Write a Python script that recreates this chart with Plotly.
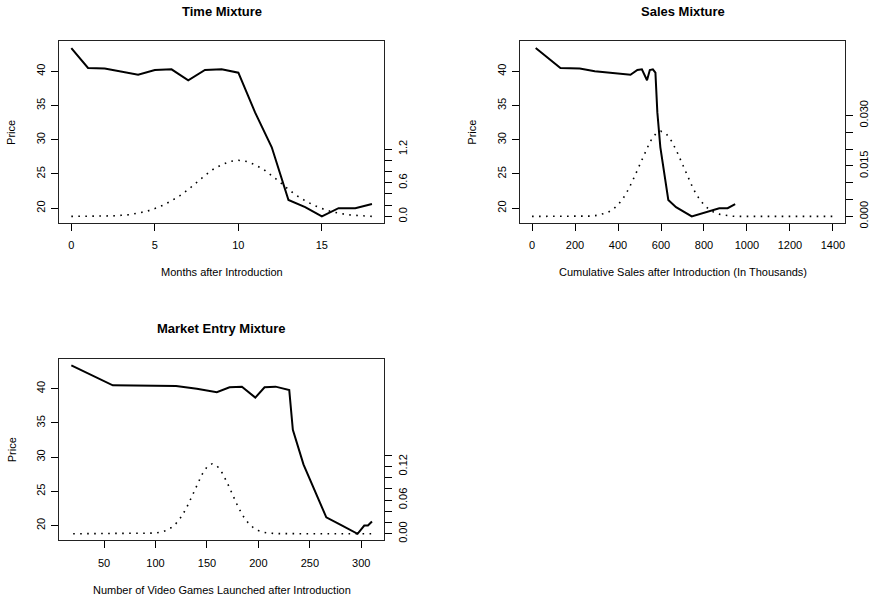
import plotly.graph_objects as go

# ---------------- data ----------------
months = list(range(19))
price = [43.4, 40.5, 40.4, 40.0, 39.5, 40.2, 40.3, 38.7, 40.2, 40.3,
         39.8, 34.0, 28.9, 21.2, 20.15, 18.8, 20.0, 20.0, 20.6]

# Time mixture weights (dotted)
time_grid = [0, 0.5, 1, 1.5, 2, 2.5, 3, 3.5, 4, 4.5, 5, 5.5, 6, 6.5, 7, 7.5, 8, 8.5, 9,
             9.5, 10, 10.5, 11, 11.5, 12, 12.5, 13, 13.5, 14, 14.5, 15, 15.5, 16, 16.5,
             17, 17.5, 18]
time_weight = [0.00, 0.00, 0.00, 0.00, 0.00, 0.01, 0.02, 0.03, 0.06, 0.09, 0.14, 0.20,
               0.28, 0.37, 0.48, 0.61, 0.73, 0.84, 0.92, 0.98, 1.00, 0.98, 0.92, 0.84,
               0.73, 0.61, 0.48, 0.37, 0.28, 0.20, 0.14, 0.09, 0.06, 0.03, 0.02, 0.01, 0.00]

# Sales mixture
cum_sales = [17, 132, 222, 292, 458, 490, 511, 535, 548, 562, 574, 583, 597,
             634, 670, 743, 871, 910, 945]
sales_grid = [0, 25, 50, 75, 100, 125, 150, 175, 200, 225, 250, 275, 300, 325, 350,
              375, 400, 425, 450, 475, 500, 525, 550, 575, 600, 625, 650, 675, 700,
              725, 750, 775, 800, 825, 850, 875, 900, 925, 950, 975, 1000, 1025, 1050,
              1075, 1100, 1125, 1150, 1175, 1200, 1225, 1250, 1275, 1300, 1325, 1350,
              1375, 1400]
sales_weight = [0, 0, 0, 0, 0, 0, 0, 0, 0, 0, 0,
                0.0001, 0.0003, 0.0006, 0.0011, 0.0020, 0.0034, 0.0055, 0.0082, 0.0116,
                0.0153, 0.0191, 0.0223, 0.0245, 0.0253, 0.0245, 0.0223, 0.0191, 0.0153,
                0.0116, 0.0082, 0.0055, 0.0034, 0.0020, 0.0011, 0.0006, 0.0003, 0.0001,
                0, 0, 0, 0, 0, 0, 0, 0, 0, 0, 0, 0, 0, 0, 0, 0, 0, 0, 0]

# Market entry mixture
games = [18.2, 58.5, 120, 140.2, 159.6, 172, 184, 197, 206, 216.7,
         230, 233.5, 243.9, 266, 279.6, 296.4, 302.9, 306.5, 310.4]
entry_grid = [20, 30, 40, 50, 60, 70, 80, 90, 95, 100, 105, 110, 115, 120, 125, 130,
              135, 140, 145, 150, 155, 160, 165, 170, 175, 180, 185, 190, 195, 200,
              205, 210, 220, 230, 240, 250, 260, 270, 280, 290, 300, 310]
entry_weight = [0, 0, 0, 0, 0, 0, 0.0001, 0.0003, 0.0005, 0.0012, 0.0027, 0.0056,
                0.0106, 0.0184, 0.0300, 0.0456, 0.0650, 0.0860, 0.1050, 0.1190,
                0.1246, 0.1205, 0.1080, 0.0900, 0.0690, 0.0490, 0.0320, 0.0195,
                0.0110, 0.0057, 0.0027, 0.0012, 0.0002, 0, 0, 0, 0, 0, 0, 0, 0, 0]

price_ticks = [20, 25, 30, 35, 40]
time_ticks = [0, 5, 10, 15]
sales_ticks = [0, 200, 400, 600, 800, 1000, 1200, 1400]
entry_ticks = [50, 100, 150, 200, 250, 300]
time_w_ticks = [0, 0.2, 0.4, 0.6, 0.8, 1.0, 1.2]
time_w_labels = ["0.0", "", "", "0.6", "", "", "1.2"]
sales_w_ticks = [0, 0.005, 0.010, 0.015, 0.020, 0.025, 0.030]
sales_w_labels = ["0.000", "", "", "0.015", "", "", "0.030"]
entry_w_ticks = [0, 0.02, 0.04, 0.06, 0.08, 0.10, 0.12, 0.14]
entry_w_labels = ["0.00", "", "", "0.06", "", "", "0.12", ""]

titles = ["Time Mixture", "Sales Mixture", "Market Entry Mixture"]
xlabels = ["Months after Introduction",
           "Cumulative Sales after Introduction (In Thousands)",
           "Number of Video Games Launched after Introduction"]


def rrange(lo, hi):
    pad = (hi - lo) * 0.04
    return [lo - pad, hi + pad]


W, H = 875, 605
FONT = "Liberation Sans, Arial, Helvetica, sans-serif"
LINE = "#222"

fig = go.Figure()

panels = [
    dict(px=(59.3, 384), py=(41.7, 225), x=months, xd=time_grid, yd=time_weight,
         xr=rrange(0, 18), xt=time_ticks, yr2=rrange(0, 3), yt2=time_w_ticks,
         yl2=time_w_labels),
    dict(px=(520, 845), py=(41.7, 225), x=cum_sales, xd=sales_grid, yd=sales_weight,
         xr=rrange(0, 1400), xt=sales_ticks, yr2=rrange(0, 0.05), yt2=sales_w_ticks,
         yl2=sales_w_labels),
    dict(px=(59.3, 384), py=(361.7, 545), x=games, xd=entry_grid, yd=entry_weight,
         xr=rrange(min(games), max(games)), xt=entry_ticks, yr2=rrange(0, 0.3),
         yt2=entry_w_ticks, yl2=entry_w_labels),
]

yrange = rrange(min(price), max(price))
layout = {}
annotations = []
for i, p in enumerate(panels):
    xa = f"x{i + 1}" if i else "x"
    ya = f"y{2 * i + 1}" if i else "y"
    ya2 = f"y{2 * i + 2}"
    xkey = f"xaxis{i + 1}" if i else "xaxis"
    ykey = f"yaxis{2 * i + 1}" if i else "yaxis"
    y2key = f"yaxis{2 * i + 2}"
    xdom = [p["px"][0] / W, p["px"][1] / W]
    ydom = [1 - p["py"][1] / H, 1 - p["py"][0] / H]

    fig.add_trace(go.Scatter(x=p["x"], y=price, mode="lines", xaxis=xa, yaxis=ya,
                             line=dict(color="black", width=2), showlegend=False,
                             hoverinfo="skip"))
    fig.add_trace(go.Scatter(x=p["xd"], y=p["yd"], mode="lines", xaxis=xa, yaxis=ya2,
                             line=dict(color="black", width=1.6, dash="1.6px,5.4px"),
                             showlegend=False, hoverinfo="skip"))

    layout[xkey] = dict(domain=xdom, range=p["xr"], anchor=ya, tickvals=p["xt"],
                        ticks="outside", ticklen=7, tickcolor="black",
                        showline=True, mirror=True, linecolor=LINE, linewidth=1,
                        showgrid=False, zeroline=False,
                        tickfont=dict(family=FONT, size=11, color="black"),
                        ticklabelstandoff=5)
    layout[ykey] = dict(domain=ydom, range=yrange, anchor=xa, tickvals=price_ticks,
                        ticks="outside", ticklen=7, tickcolor="black", tickangle=-90,
                        showline=True, mirror=True, linecolor=LINE, linewidth=1,
                        showgrid=False, zeroline=False,
                        tickfont=dict(family=FONT, size=11, color="black"),
                        ticklabelstandoff=2)
    layout[y2key] = dict(domain=ydom, range=p["yr2"], anchor=xa, overlaying=ya,
                         side="right", tickvals=p["yt2"], ticktext=p["yl2"],
                         ticks="outside", ticklen=7, tickcolor="black", tickangle=-90,
                         showline=False, showgrid=False, zeroline=False,
                         tickfont=dict(family=FONT, size=11, color="black"),
                         ticklabelstandoff=2)

    cx = (p["px"][0] + p["px"][1]) / 2 / W
    annotations.append(dict(text=f"<b>{titles[i]}</b>", x=cx, y=1 - (p["py"][0] - 30) / H,
                            xref="paper", yref="paper", showarrow=False,
                            xanchor="center", yanchor="middle",
                            font=dict(family=FONT, size=13, color="black")))
    annotations.append(dict(text=xlabels[i], x=cx, y=1 - (p["py"][1] + 49.5) / H,
                            xref="paper", yref="paper", showarrow=False,
                            xanchor="center", yanchor="middle",
                            font=dict(family=FONT, size=11, color="black")))
    annotations.append(dict(text="Price", x=(p["px"][0] - 47.6) / W,
                            y=1 - (p["py"][0] + p["py"][1]) / 2 / H,
                            xref="paper", yref="paper", showarrow=False, textangle=-90,
                            xanchor="center", yanchor="middle",
                            font=dict(family=FONT, size=11, color="black")))

fig.update_layout(width=W, height=H, margin=dict(l=0, r=0, t=0, b=0),
                  paper_bgcolor="white", plot_bgcolor="white",
                  annotations=annotations, **layout)

fig.write_html("out.html")
